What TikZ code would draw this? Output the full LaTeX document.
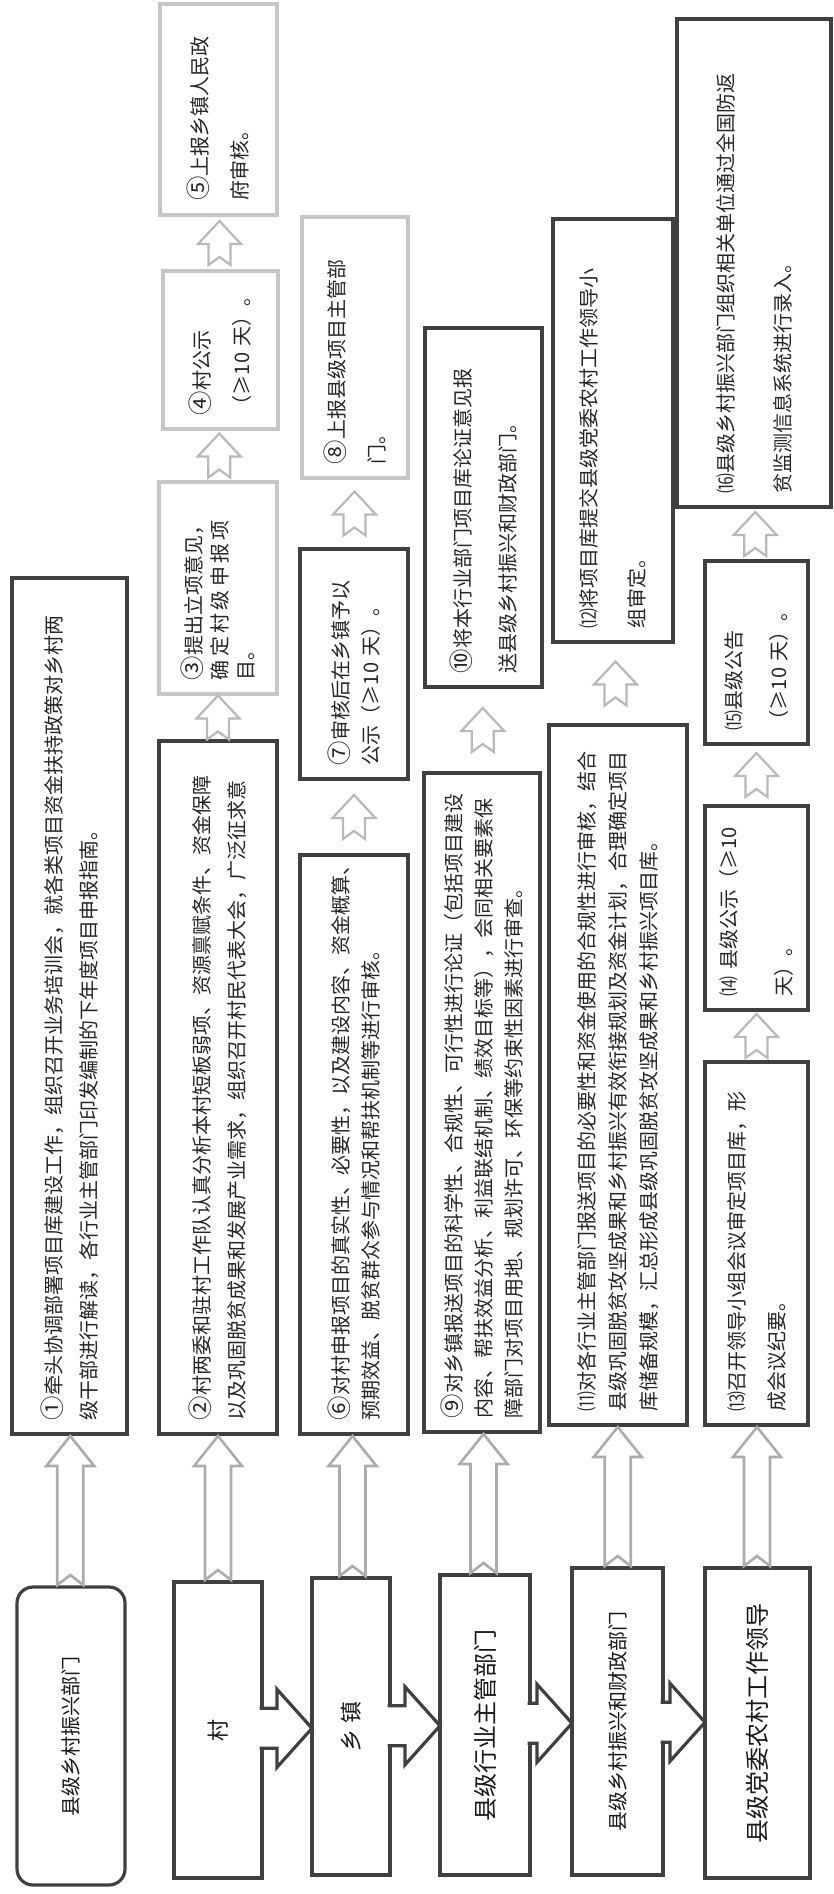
\documentclass[tikz,border=0pt]{standalone}
\usepackage{fontspec}
\setmainfont{Noto Sans CJK SC}
\usetikzlibrary{calc}

\newcommand\stepno[1]{\scalebox{1.22}{#1}}

\tikzset{
  darkbox/.style={draw=black!75, line width=1.6pt, rotate=90, outer sep=0pt,
    inner xsep=7pt, inner ysep=0pt, align=left, text=black!85},
  lightbox/.style={darkbox, draw=gray!45},
  rowbox/.style={draw=black!75, line width=1.6pt, rotate=90, outer sep=0pt,
    inner sep=0pt, align=center, text=black!90},
  txt/.style={font=\fontsize{10pt}{#1}\selectfont},
  uparrow/.style={draw=gray!55, line width=1.1pt, fill=white, to path={
    let \p1=(\tikztostart), \p2=(\tikztotarget), \p3=($(\p1)!0.5!(\p2)$) in
    (\x3-5.5pt,\y3-11pt) -- (\x3-5.5pt,\y3-0.5pt) -- (\x3-10.75pt,\y3-0.5pt)
    -- (\x3,\y3+11pt) -- (\x3+10.75pt,\y3-0.5pt) -- (\x3+5.5pt,\y3-0.5pt)
    -- (\x3+5.5pt,\y3-11pt) -- (\x3,\y3-7pt) -- cycle}},
  bigarrow/.style={draw=gray!65, line width=1.3pt, fill=white, to path={
    let \p1=(\tikztostart), \p2=(\tikztotarget), \p3=($(\p1)!0.5!(\p2)$) in
    (\x3-6.5pt,\y1+1pt) -- (\x3-6.5pt,\y2-16pt) -- (\x3-12pt,\y2-16pt)
    -- (\x3,\y2-1pt) -- (\x3+12pt,\y2-16pt) -- (\x3+6.5pt,\y2-16pt)
    -- (\x3+6.5pt,\y1+1pt) -- (\x3,\y1+6pt) -- cycle}},
  sidearrow/.style={draw=black!75, line width=1.6pt, fill=white, to path={
    let \p1=(\tikztostart), \p2=(\tikztotarget), \p3=($(\p1)!0.5!(\p2)$) in
    (\x1-1.2pt,\y3+10pt) -- (\x2-17.5pt,\y3+10pt) -- (\x2-17.5pt,\y3+19.5pt)
    -- (\x2,\y3) -- (\x2-17.5pt,\y3-19.5pt) -- (\x2-17.5pt,\y3-10pt)
    -- (\x1-1.2pt,\y3-10pt)}},
}

\begin{document}
\begin{tikzpicture}[x=0.5pt, y=-0.5pt]
\path[use as bounding box] (0,0) rectangle (834,1894);

% row labels
\node (l1) [rowbox, rounded corners=8pt, minimum width=149pt, minimum height=54pt, font=\fontsize{10pt}{12pt}\selectfont] at (71,1736) {县级乡村振兴部门};
\node (l2) [rowbox, minimum width=148pt, minimum height=44pt, font=\fontsize{11pt}{13pt}\selectfont] at (218,1730) {村};
\node (l3) [rowbox, minimum width=148.5pt, minimum height=39pt, font=\fontsize{11pt}{13pt}\selectfont] at (351,1726.5) {乡\hspace{0.25em}镇};
\node (l4) [rowbox, minimum width=150pt, minimum height=45pt, font=\fontsize{12pt}{14pt}\selectfont] at (485,1725) {县级行业主管部门};
\node (l5) [rowbox, minimum width=153.5pt, minimum height=45.5pt, font=\fontsize{10pt}{12pt}\selectfont] at (617.5,1721.5) {县级乡村振兴和财政部门};
\node (l6) [rowbox, minimum width=155pt, minimum height=52.5pt, font=\fontsize{12pt}{14pt}\selectfont] at (757.5,1723) {县级党委农村工作领导};

% steps
\node (n1) [darkbox, txt=17.5pt, text width=414pt, minimum height=57.5pt] at (69.5,1006)
  {\stepno{①}牵头协调部署项目库建设工作，组织召开业务培训会，就各类项目资金扶持政策对乡村两\\级干部进行解读，各行业主管部门印发编制的下年度项目申报指南。};
\node (n2) [darkbox, txt=17.5pt, text width=332.5pt, minimum height=59pt] at (218,1087.5)
  {\stepno{②}村两委和驻村工作队认真分析本村短板弱项、资源禀赋条件、资金保障\\以及巩固脱贫成果和发展产业需求，组织召开村民代表大会，广泛征求意};
\node (n3) [lightbox, txt=13pt, text width=92pt, minimum height=59pt] at (218,588)
  {\stepno{③}提出立项意见，\\\makebox[8em][s]{确\hfill 定\hfill 村\hfill 级\hfill 申\hfill 报\hfill 项}\\目。};
\node (n4) [lightbox, txt=20pt, text width=65pt, minimum height=57.5pt] at (220.5,350)
  {\stepno{④}村公示\\（≥10 天）。};
\node (n5) [lightbox, txt=20pt, text width=91.5pt, minimum height=58.5pt] at (218.5,109.5)
  {\stepno{⑤}上报乡镇人民政\\府审核。};
\node (n6) [darkbox, txt=15pt, text width=275.5pt, minimum height=54pt] at (354,1144.5)
  {\stepno{⑥}对村申报项目的真实性、必要性，以及建设内容、资金概算、\\预期效益、脱贫群众参与情况和帮扶机制等进行审核。};
\node (n7) [darkbox, txt=15pt, text width=101pt, minimum height=54pt] at (354,664)
  {\stepno{⑦}审核后在乡镇予以\\公示（≥10 天）。};
\node (n8) [lightbox, txt=20pt, text width=116.5pt, minimum height=53pt] at (355,347.5)
  {\stepno{⑧}上报县级项目主管部\\门。};
\node (n9) [darkbox, txt=15pt, text width=315.5pt, minimum height=58pt] at (482,1102.5)
  {\stepno{⑨}对乡镇报送项目的科学性、合规性、可行性进行论证（包括项目建设\\内容、帮扶效益分析、利益联结机制、绩效目标等），会同相关要素保\\障部门对项目用地、规划许可、环保等约束性因素进行审查。};
\node (n10) [darkbox, txt=22.5pt, text width=165.5pt, minimum height=58.5pt] at (483.5,507.5)
  {\stepno{⑩}将本行业部门项目库论证意见报\\送县级乡村振兴和财政部门。};
\node (n11) [darkbox, txt=15.5pt, text width=336pt, minimum height=69pt] at (618,1075)
  {⑾对各行业主管部门报送项目的必要性和资金使用的合规性进行审核，结合\\县级巩固脱贫攻坚成果和乡村振兴有效衔接规划及资金计划，合理确定项目\\库储备规模，汇总形成县级巩固脱贫攻坚成果和乡村振兴项目库。};
\node (n12) [darkbox, txt=24pt, text width=197.5pt, minimum height=60pt] at (613,430.5)
  {⑿将项目库提交县级党委农村工作领导小\\组审定。};
\node (n13) [darkbox, txt=20pt, text width=167.5pt, minimum height=51.5pt] at (756.5,1243.5)
  {⒀召开领导小组会议审定项目库，形\\成会议纪要。};
\node (n14) [darkbox, txt=27.5pt, text width=88pt, minimum height=51.5pt] at (756.5,908)
  {⒁ 县级公示（≥10\\天）。};
\node (n15) [darkbox, txt=22.5pt, text width=77.5pt, minimum height=51.5pt] at (756.5,652.5)
  {⒂县级公告\\（≥10 天）。};
\node (n16) [darkbox, txt=28.5pt, text width=230pt, minimum height=77pt] at (754,263)
  {⒃县级乡村振兴部门组织相关单位通过全国防返\\贫监测信息系统进行录入。};

% arrows
\draw[bigarrow] (l1.east) to (n1.west);
\draw[bigarrow] (l2.east) to (n2.west);
\draw[bigarrow] (l3.east) to (n6.west);
\draw[bigarrow] (l4.east) to (n9.west);
\draw[bigarrow] (l5.east) to (n11.west);
\draw[bigarrow] (l6.east) to (n13.west);

\draw[sidearrow] (l2.south) to (l3.north);
\draw[sidearrow] (l3.south) to (l4.north);
\draw[sidearrow] (l4.south) to (l5.north);
\draw[sidearrow] (l5.south) to (l6.north);

\draw[uparrow] (n2.east) to (n3.west);
\draw[uparrow] (n3.east) to (n4.west);
\draw[uparrow] (n4.east) to (n5.west);
\draw[uparrow] (n6.east) to (n7.west);
\draw[uparrow] (n7.east) to (n8.west);
\draw[uparrow] (n9.east) to (n10.west);
\draw[uparrow] (n11.east) to (n12.west);
\draw[uparrow] (n13.east) to (n14.west);
\draw[uparrow] (n14.east) to (n15.west);
\draw[uparrow] (n15.east) to (n16.west);
\end{tikzpicture}
\end{document}
